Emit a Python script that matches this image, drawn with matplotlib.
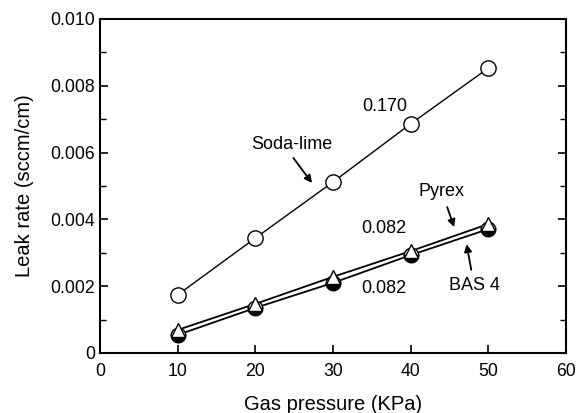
import matplotlib
matplotlib.use("Agg")
import matplotlib.pyplot as plt
from matplotlib.ticker import MultipleLocator

plt.rcParams['font.family'] = ['Liberation Sans', 'DejaVu Sans']

pressure = [10, 20, 30, 40, 50]
soda_lime = [0.00174, 0.00344, 0.00512, 0.00686, 0.00853]
pyrex = [0.00069, 0.00147, 0.00228, 0.00305, 0.00386]
bas4 = [0.00054, 0.00135, 0.00210, 0.00293, 0.00371]

xticks = [0, 10, 20, 30, 40, 50, 60]
yticks = [0, 0.002, 0.004, 0.006, 0.008, 0.010]
ytick_labels = ['0', '0.002', '0.004', '0.006', '0.008', '0.010']

fig = plt.figure(figsize=(5.88, 4.13), dpi=100)
ax = fig.add_axes([0.170, 0.1453, 0.7926, 0.8087])

ax.plot(pressure, soda_lime, color='black', lw=1.0, marker='o', ms=11,
        mfc='white', mec='black', mew=1.0, zorder=3)
ax.plot(pressure, pyrex, color='black', lw=1.3, zorder=2)
ax.plot(pressure, bas4, color='black', lw=1.3, zorder=2)
ax.plot(pressure, bas4, ls='none', marker='o', ms=10.5, fillstyle='bottom',
        mfc='black', mfcalt='white', mec='black', mew=1.0, zorder=3)
ax.plot(pressure, pyrex, ls='none', marker='^', ms=10.5,
        mfc='white', mec='black', mew=1.0, zorder=4)

ax.set_xlim(0, 60)
ax.set_ylim(0, 0.010)
ax.set_xticks(xticks)
ax.set_yticks(yticks)
ax.set_yticklabels(ytick_labels)
ax.yaxis.set_minor_locator(MultipleLocator(0.001))
ax.tick_params(axis='both', which='both', direction='in', labelsize=12.7,
               right=True, top=False)
ax.tick_params(axis='both', which='major', length=6, width=1.2)
ax.tick_params(axis='both', which='minor', length=4, width=1.0)
ax.tick_params(axis='x', pad=7)
for s in ax.spines.values():
    s.set_linewidth(1.5)

ax.set_xlabel('Gas pressure (KPa)', fontsize=14.5, labelpad=11)
ax.set_ylabel('Leak rate (sccm/cm)', fontsize=14.5, labelpad=12)

fs = 13
ax.text(36.7, 0.00737, '0.170', fontsize=fs, ha='center', va='center')
ax.text(36.5, 0.00374, '0.082', fontsize=fs, ha='center', va='center')
ax.text(36.5, 0.00192, '0.082', fontsize=fs, ha='center', va='center')
ax.text(24.7, 0.00624, 'Soda-lime', fontsize=fs, ha='center', va='center')
ax.text(44.0, 0.00483, 'Pyrex', fontsize=fs, ha='center', va='center')
ax.text(48.2, 0.00203, 'BAS 4', fontsize=fs, ha='center', va='center')

arrow = dict(arrowstyle='-|>', color='black', lw=1.3, mutation_scale=11,
             shrinkA=0, shrinkB=0)
ax.annotate('', xy=(27.3, 0.00509), xytext=(24.9, 0.00584), arrowprops=arrow)
ax.annotate('', xy=(45.6, 0.00377), xytext=(44.7, 0.00437), arrowprops=arrow)
ax.annotate('', xy=(47.2, 0.00326), xytext=(47.8, 0.00249), arrowprops=arrow)

fig.savefig('out.png', dpi=100)
